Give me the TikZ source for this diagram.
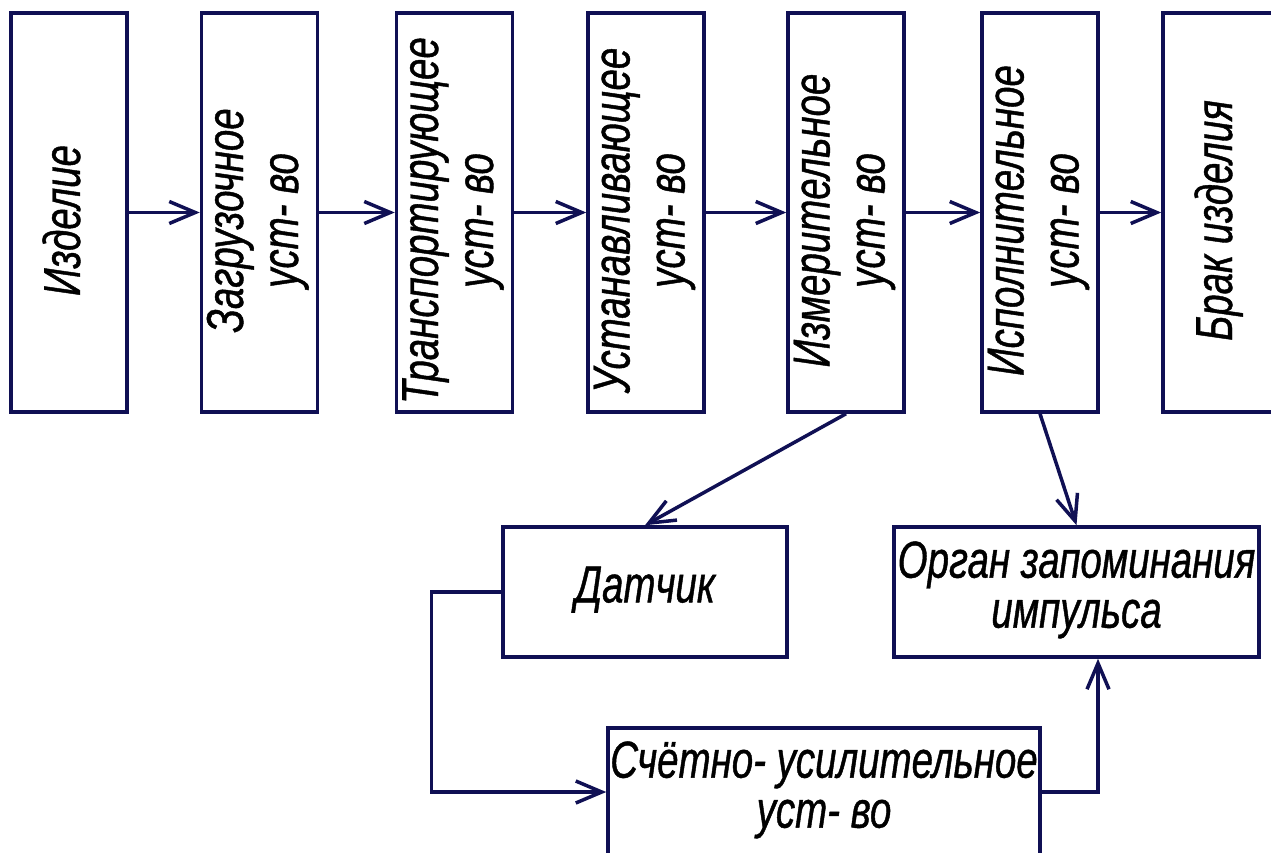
\documentclass[tikz,border=0pt]{standalone}
\usepackage{fontspec}
\usetikzlibrary{arrows.meta}
\newfontfamily\lab[FakeStretch=0.74,FakeBold=0.8]{Liberation Sans}
\definecolor{linec}{RGB}{16,16,84}
\tikzset{
  vbox/.style={draw=linec, line width=3.5pt, minimum width=116pt, minimum height=399pt, inner sep=0pt, font=\lab\itshape\fontsize{52}{55}\selectfont},
  hbox/.style={draw=linec, line width=3.5pt, inner sep=0pt, font=\lab\itshape\fontsize{52}{50}\selectfont},
  arr/.style={draw=linec, line width=3.5pt, -{Straight Barb[length=26pt,width=22pt,line width=3.5pt]}},
}
\newcommand{\vtext}[1]{\rotatebox{90}{\begin{tabular}{@{}c@{}}#1\end{tabular}\kern16pt}}
\newcommand{\htext}[1]{\begin{tabular}{@{}c@{}}#1\end{tabular}}
\begin{document}
\begin{tikzpicture}[x=1pt,y=-1pt]
\useasboundingbox (0,0) rectangle (1271,852);
\clip (0,0) rectangle (1271,852);
\node[vbox] (b1) at (69,212.5) {\vtext{Изделие}};
\node[vbox] (b2) at (259.5,212.5) {\vtext{Загрузочное\\уст- во}};
\node[vbox] (b3) at (454.5,212.5) {\vtext{Транспортирующее\\уст- во}};
\node[vbox] (b4) at (646,212.5) {\vtext{Устанавливающее\\уст- во}};
\node[vbox] (b5) at (846,212.5) {\vtext{Измерительное\\уст- во}};
\node[vbox] (b6) at (1040,212.5) {\vtext{Исполнительное\\уст- во}};
\node[vbox] (b7) at (1221,212.5) {\vtext{Брак  изделия}};
\node[hbox, minimum width=284pt, minimum height=130pt] (dat) at (645,592) {\htext{Датчик}};
\node[hbox, minimum width=365pt, minimum height=130pt] (org) at (1076.5,592) {\htext{Орган  запоминания\\импульса}};
\node[hbox, minimum width=432pt, minimum height=128pt] (sch) at (824,792) {\htext{Счётно- усилительное\\уст- во}};
\coordinate (oin) at ([xshift=21.5pt]org.south);
\draw[arr] (b1.east) -- (b2.west);
\draw[arr] (b2.east) -- (b3.west);
\draw[arr] (b3.east) -- (b4.west);
\draw[arr] (b4.east) -- (b5.west);
\draw[arr] (b5.east) -- (b6.west);
\draw[arr] (b6.east) -- (b7.west);
\draw[arr] (b5.south) -- (dat.north);
\draw[arr] (b6.south) -- (org.north);
\draw[arr] (dat.west) -- ++(-70,0) |- (sch.west);
\draw[arr] (sch.east) -| (oin);
\end{tikzpicture}
\end{document}
